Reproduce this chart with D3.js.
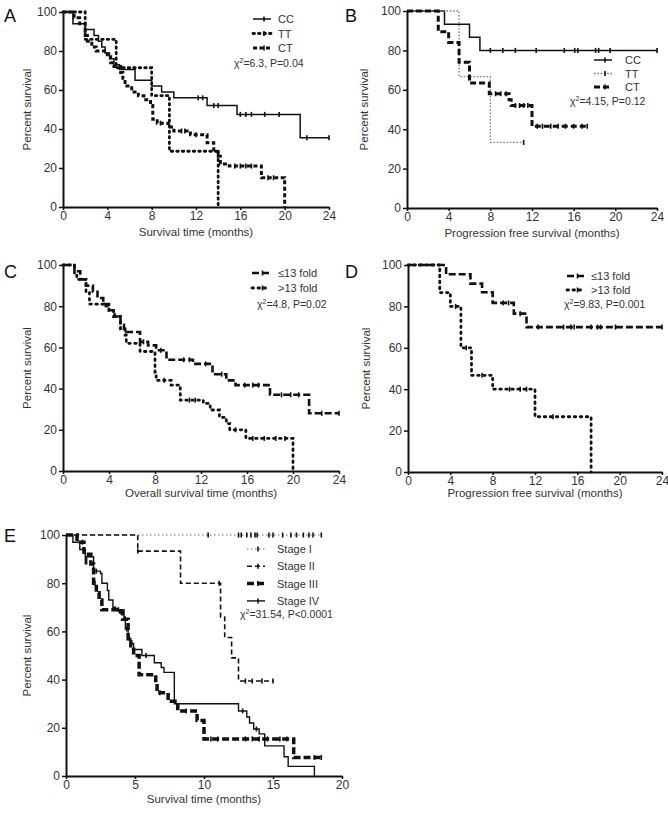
<!DOCTYPE html>
<html><head><meta charset="utf-8">
<script src="https://cdn.jsdelivr.net/npm/d3@7"></script>
<style>
body{margin:0;background:#fff;}
svg{display:block;font-family:"Liberation Sans",Arial,Helvetica,sans-serif;}
.tick text{font-size:12px;fill:#333;}
</style></head>
<body>
<svg id="chart" width="668" height="815"></svg>
<script>
// ---------------- DATA ----------------
// Each curve: step points [time, percent] (drop happens at time), plus end time and censor times
const xTicks24 = [0,4,8,12,16,20,24];
const xTicks20 = [0,5,10,15,20];
const yTicks = [0,20,40,60,80,100];

// Panel A
const aCC = [[0,100],[0.9,94],[2.0,91],[2.8,88],[3.2,85],[3.5,82],[3.8,79],[4.2,76],[4.6,73],[5.1,70.5],[6.5,65],[8.0,62],[8.9,59],[10.0,56],[13.0,52],[15.7,47.5],[21.4,35.5]];
const aCCend = 24;
const aCCcens = [12.2,12.6,13.6,14.0,16.0,16.5,17.0,18.2,19.5,22.0,24];
const aTT = [[0,100],[2.0,86],[4.8,71.4],[8.0,57.1],[9.6,28.6],[14.0,0]];
const aTTend = 14;
const aTTcens = [];
const aCT = [[0,100],[1.0,97],[1.5,94],[2.0,88],[2.2,85],[2.6,82],[3.0,80],[4.0,77],[4.3,74],[4.6,72],[5.2,69],[5.4,66],[5.6,62],[6.2,59],[6.8,57],[7.3,55],[7.9,52],[8.1,45],[8.5,43],[9.5,41],[10.0,39],[11.5,37],[13.0,33],[13.6,28.5],[14.0,26],[14.2,22],[15.0,21],[17.9,15],[20.0,0]];
const aCTend = 20;
const aCTcens = [8.8,10.7,11.0,12.0,15.5,16.0,16.5,17.0,18.5,19.0];

// Panel B
const bCC = [[0,100],[3.6,93.3],[6.0,86.7],[7.0,80]];
const bCCend = 24;
const bCCcens = [8.0,9.2,10.4,12.4,15.1,16.1,16.4,18.1,18.4,19.5,24];
const bTT = [[0,100],[5.0,66.7],[8.0,33.3]];
const bTTend = 11.2;
const bTTcens = [11.2];
const bCT = [[0,100],[3.0,89.5],[4.0,84],[5.0,74],[6.0,63.5],[7.9,58],[9.8,55],[10.0,52],[12.0,41.5]];
const bCTend = 17.3;
const bCTcens = [8.5,9.0,9.5,10.4,10.8,11.2,11.6,12.5,13.0,13.8,14.5,15.2,16.0,16.8,17.3];

// Panel C
const cLow = [[0,100],[1.0,97],[1.5,93],[2.0,90],[2.6,87],[3.0,84],[3.5,81],[4.0,78],[4.5,75],[5.0,71],[5.3,69],[5.5,67.5],[6.7,62.7],[7.4,61],[8.1,58.6],[9.0,54],[11.3,52],[13.0,47],[14.2,44],[15.0,41.7],[18.0,37],[21.4,28]];
const cLowEnd = 24;
const cLowCens = [7.0,8.5,10.5,11.0,12.4,13.8,15.8,16.5,17.0,19.0,19.8,20.5,22.5,24];
const cHigh = [[0,100],[1.0,96],[1.2,93],[2.0,87],[2.3,81],[3.5,80],[4.0,78],[4.4,75],[5.0,69],[5.4,66],[5.5,62],[6.7,58],[8.0,48],[8.1,44],[9.4,41.7],[10.2,34.4],[12.2,32.8],[12.8,29.6],[13.6,26],[14.2,23],[14.5,20],[15.9,15.8],[20.0,0]];
const cHighEnd = 20;
const cHighCens = [8.8,11.0,11.5,15.0,16.5,17.5,18.5,19.3];

// Panel D
const dLow = [[0,100],[3.6,95.5],[5.9,91],[7.0,86.8],[8.0,81.7],[10.0,76.5],[11.2,70]];
const dLowEnd = 24;
const dLowCens = [9.0,9.5,10.6,12.3,14.7,15.4,15.7,17.3,17.9,18.2,19.6,24];
const dHigh = [[0,100],[3.0,86.7],[4.0,80],[5.0,60],[6.0,46.7],[8.0,40],[12.0,26.7],[17.3,0]];
const dHighEnd = 17.3;
const dHighCens = [4.5,5.5,7.0,9.6,10.6,11.2,13.7];

// Panel E
const eS1 = [[0,100]];
const eS1end = 18.5;
const eS1cens = [10.3,12.5,12.7,13.1,13.4,13.7,13.85,14.7,15.0,15.7,16.3,16.7,17.2,17.6,17.9,18.5];
const eS2 = [[0,100],[5.2,93.3],[8.3,80],[11.2,66],[11.5,57.5],[12.0,49],[12.5,39.4]];
const eS2end = 15;
const eS2cens = [5.2,11.1,13.0,13.5,14.2,15.0];
const eS3 = [[0,100],[0.8,97],[1.3,92],[1.8,88],[2.0,80],[2.2,76],[2.4,73],[2.6,69],[3.8,68],[4.1,65],[4.5,57],[4.7,54],[4.9,50],[5.3,42],[6.5,38.5],[6.6,34.5],[7.4,31],[8.1,27],[9.5,23],[10.0,15.4],[16.5,7.7]];
const eS3end = 18.5;
const eS3cens = [1.2,2.1,4.0,4.6,6.8,8.7,10.5,11.0,13.0,13.5,14.0,14.6,15.5,16.0,18.0,18.5];
const eS4 = [[0,100],[0.5,97],[1.0,94],[1.4,88],[1.5,91],[2.0,85],[2.5,84],[2.6,80],[3.0,77],[3.1,73],[3.4,70],[3.6,69],[4.2,66],[4.3,61],[4.5,57],[4.7,55],[4.9,52.5],[5.5,50],[6.4,47],[6.9,45],[7.1,43],[7.85,30],[12.5,27],[13.1,24.5],[13.3,22],[13.6,19.5],[14.0,17.5],[14.4,12.5],[15.8,8],[16.1,4],[18.0,0]];
const eS4end = 18;
const eS4cens = [2.2,3.8,4.4,5.8,12.8,13.8];

// ---------------- DRAWING ----------------
const svg = d3.select("#chart");

function stepAt(steps, t){
  let v = steps[0][1];
  for (const s of steps){ if (s[0] <= t) v = s[1]; }
  return v;
}

const styles = {
  solid:   {w:1.5, dash:null,   color:"#111"},
  dotA:    {w:2.8, dash:"1.5,4", color:"#111", cap:"round"},
  dashA:   {w:3,   dash:"4,2.5", color:"#111"},
  greyDot: {w:1.3, dash:"1.5,1.8", color:"#777"},
  dashB:   {w:3,   dash:"6,3",  color:"#111"},
  dashC:   {w:2.6, dash:"7,3",  color:"#111"},
  dotC:    {w:2.8, dash:"1.5,4.5", color:"#111", cap:"round"},
  dotE1:   {w:1.2, dash:"1.5,2.5", color:"#666"},
  dashE2:  {w:1.6, dash:"5,3",  color:"#111"},
  dashE3:  {w:3.5, dash:"7,3",  color:"#111"},
  solidE4: {w:1.4, dash:null,   color:"#111"}
};

function panel(cfg){
  const g = svg.append("g");
  const x = d3.scaleLinear().domain([0, cfg.xmax]).range([cfg.x0, cfg.x1]);
  const y = d3.scaleLinear().domain([0, 100]).range([cfg.y0, cfg.y1]);

  const xa = g.append("g").attr("transform", `translate(0,${cfg.y0})`)
    .call(d3.axisBottom(x).tickValues(cfg.xticks).tickSize(3).tickSizeOuter(0).tickPadding(1));
  const ya = g.append("g").attr("transform", `translate(${cfg.x0},0)`)
    .call(d3.axisLeft(y).tickValues(yTicks).tickSize(4).tickSizeOuter(0).tickPadding(2));
  [xa, ya].forEach(a => {
    a.select(".domain").attr("stroke", "#111").attr("stroke-width", 2);
    a.selectAll(".tick line").attr("stroke", "#111").attr("stroke-width", 1.5);
  });

  // Titles
  g.append("text").attr("x", (cfg.x0 + cfg.x1)/2).attr("y", cfg.xtitleY)
    .attr("text-anchor", "middle").attr("font-size", 11.5).attr("fill", "#333").text(cfg.xtitle);
  g.append("text").attr("transform", `translate(${cfg.ytitleX},${(cfg.y0+cfg.y1)/2}) rotate(-90)`)
    .attr("text-anchor", "middle").attr("font-size", 11.5).attr("fill", "#333").text("Percent survival");
  g.append("text").attr("x", cfg.letterX).attr("y", cfg.letterY)
    .attr("font-size", 18).attr("fill", "#111").text(cfg.letter);

  const line = d3.line().x(d => x(d[0])).y(d => y(d[1])).curve(d3.curveStepAfter);

  cfg.series.forEach(s => {
    const st = styles[s.style];
    const pts = s.steps.concat([[s.end, s.steps[s.steps.length-1][1]]]);
    g.append("path").attr("d", line(pts)).attr("fill", "none")
      .attr("stroke", st.color).attr("stroke-width", st.w)
      .attr("stroke-dasharray", st.dash).attr("stroke-linecap", st.cap || "butt");
    g.selectAll(null).data(s.cens).enter().append("line")
      .attr("x1", d => x(d)).attr("x2", d => x(d))
      .attr("y1", d => y(stepAt(s.steps, d)) - 2.5).attr("y2", d => y(stepAt(s.steps, d)) + 2.5)
      .attr("stroke", "#111").attr("stroke-width", 1.6);
  });

  // Legend
  const L = cfg.legend;
  cfg.series.forEach((s, i) => {
    const st = styles[s.style];
    const ly = L.y + i * L.dy;
    g.append("line").attr("x1", L.sx).attr("x2", L.sx + L.sw).attr("y1", ly - 4).attr("y2", ly - 4)
      .attr("stroke", st.color).attr("stroke-width", st.w).attr("stroke-dasharray", st.dash)
      .attr("stroke-linecap", st.cap || "butt");
    g.append("line").attr("x1", L.sx + L.sw/2 + 2).attr("x2", L.sx + L.sw/2 + 2)
      .attr("y1", ly - 6.5).attr("y2", ly - 1.5).attr("stroke", "#111").attr("stroke-width", 1.6);
    g.append("text").attr("x", L.tx).attr("y", ly).attr("font-size", 11).attr("fill", "#333").text(s.name);
  });
  const chi = g.append("text").attr("x", L.cx).attr("y", L.cy).attr("font-size", 10.5).attr("fill", "#333");
  chi.append("tspan").text("χ");
  chi.append("tspan").attr("dy", -4).attr("font-size", 7).text("2");
  chi.append("tspan").attr("dy", 4).text(L.chi);
}

panel({letter:"A", letterX:4, letterY:22, x0:63, x1:329, y0:207, y1:12, xmax:24, xticks:xTicks24,
  xtitle:"Survival time (months)", xtitleY:236, ytitleX:31,
  legend:{sx:253, sw:18, tx:278, y:23, dy:14.5, cx:234, cy:67, chi:"=6.3, P=0.04"},
  series:[
    {name:"CC", steps:aCC, end:aCCend, cens:aCCcens, style:"solid"},
    {name:"TT", steps:aTT, end:aTTend, cens:aTTcens, style:"dotA"},
    {name:"CT", steps:aCT, end:aCTend, cens:aCTcens, style:"dashA"}
  ]});

panel({letter:"B", letterX:345, letterY:22, x0:407, x1:657, y0:208, y1:11, xmax:24, xticks:xTicks24,
  xtitle:"Progression free survival (months)", xtitleY:237, ytitleX:368,
  legend:{sx:594, sw:18, tx:625, y:64, dy:13.5, cx:570, cy:105, chi:"=4.15, P=0.12"},
  series:[
    {name:"CC", steps:bCC, end:bCCend, cens:bCCcens, style:"solid"},
    {name:"TT", steps:bTT, end:bTTend, cens:bTTcens, style:"greyDot"},
    {name:"CT", steps:bCT, end:bCTend, cens:bCTcens, style:"dashB"}
  ]});

panel({letter:"C", letterX:4, letterY:278, x0:63, x1:339, y0:471, y1:265, xmax:24, xticks:xTicks24,
  xtitle:"Overall survival time (months)", xtitleY:497, ytitleX:31,
  legend:{sx:252, sw:17, tx:278, y:277, dy:15, cx:257, cy:308, chi:"=4.8, P=0.02"},
  series:[
    {name:"≤13 fold", steps:cLow, end:cLowEnd, cens:cLowCens, style:"dashC"},
    {name:">13 fold", steps:cHigh, end:cHighEnd, cens:cHighCens, style:"dotC"}
  ]});

panel({letter:"D", letterX:345, letterY:278, x0:408, x1:662, y0:472, y1:265, xmax:24, xticks:xTicks24,
  xtitle:"Progression free survival (months)", xtitleY:497, ytitleX:370,
  legend:{sx:567, sw:17, tx:591, y:280, dy:14, cx:564, cy:308, chi:"=9.83, P=0.001"},
  series:[
    {name:"≤13 fold", steps:dLow, end:dLowEnd, cens:dLowCens, style:"dashC"},
    {name:">13 fold", steps:dHigh, end:dHighEnd, cens:dHighCens, style:"dotC"}
  ]});

panel({letter:"E", letterX:4, letterY:542, x0:66, x1:342, y0:776, y1:535, xmax:20, xticks:xTicks20,
  xtitle:"Survival time (months)", xtitleY:803, ytitleX:31,
  legend:{sx:247, sw:18, tx:277, y:553, dy:17.3, cx:240, cy:618, chi:"=31.54, P<0.0001"},
  series:[
    {name:"Stage I", steps:eS1, end:eS1end, cens:eS1cens, style:"dotE1"},
    {name:"Stage II", steps:eS2, end:eS2end, cens:eS2cens, style:"dashE2"},
    {name:"Stage III", steps:eS3, end:eS3end, cens:eS3cens, style:"dashE3"},
    {name:"Stage IV", steps:eS4, end:eS4end, cens:eS4cens, style:"solidE4"}
  ]});
</script>
</body></html>
